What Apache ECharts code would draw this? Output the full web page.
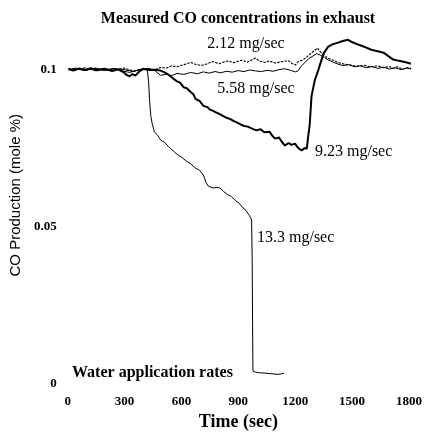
<!DOCTYPE html>
<html><head><meta charset="utf-8">
<script src="https://cdn.jsdelivr.net/npm/echarts@6/dist/echarts.min.js"></script>
<style>html,body{margin:0;padding:0;background:#fff}#c{width:429px;height:436px}</style>
</head><body><div id="c"></div>
<script>
// Time (sec), CO (mole %)
var xTicks = [0, 300, 600, 900, 1200, 1500, 1800];
var yTicks = [0, 0.05, 0.1];
var rate212 = [[5,0.1003],[41,0.0998],[92,0.1005],[143,0.0996],[194,0.1002],[245,0.0997],[296,0.1004],[347,0.0995],[398,0.0998],[429,0.1001],[460,0.0999],[490,0.1006],[521,0.1004],[547,0.1011],[577,0.1008],[613,0.1015],[649,0.1022],[674,0.1016],[705,0.1012],[741,0.1019],[766,0.1025],[797,0.1018],[817,0.1022],[848,0.1027],[874,0.1021],[889,0.1024],[920,0.1029],[950,0.1023],[976,0.1032],[991,0.1036],[1011,0.1026],[1042,0.1022],[1063,0.1027],[1093,0.1020],[1134,0.1025],[1144,0.1021],[1165,0.1027],[1185,0.1018],[1201,0.1014],[1216,0.1025],[1236,0.1029],[1257,0.1037],[1277,0.1048],[1303,0.1060],[1318,0.1068],[1328,0.1058],[1344,0.1050],[1359,0.1042],[1374,0.1035],[1400,0.1029],[1425,0.1022],[1461,0.1016],[1492,0.1014],[1522,0.1010],[1563,0.1013],[1594,0.1008],[1635,0.1011],[1666,0.1005],[1696,0.1009],[1717,0.1003],[1737,0.1008],[1768,0.1001],[1788,0.1006],[1819,0.1002]];
var rate558 = [[5,0.0998],[41,0.1004],[92,0.0997],[143,0.1003],[194,0.0996],[245,0.1002],[296,0.0999],[347,0.0993],[398,0.1001],[429,0.1003],[460,0.0996],[490,0.0981],[521,0.0985],[547,0.0980],[577,0.0987],[613,0.0984],[649,0.0990],[685,0.0986],[715,0.0992],[746,0.0988],[777,0.0993],[807,0.0989],[838,0.0994],[868,0.0991],[899,0.0996],[930,0.0993],[960,0.0998],[991,0.0995],[1022,0.0993],[1052,0.0997],[1083,0.0994],[1114,0.0999],[1144,0.1002],[1175,0.0997],[1201,0.0992],[1216,0.0996],[1231,0.1010],[1252,0.1022],[1272,0.1035],[1293,0.1042],[1313,0.1050],[1333,0.1045],[1354,0.1038],[1374,0.1030],[1395,0.1024],[1420,0.1018],[1451,0.1012],[1482,0.1015],[1512,0.1008],[1543,0.1011],[1574,0.1005],[1604,0.1009],[1635,0.1003],[1666,0.1007],[1696,0.1001],[1727,0.1005],[1758,0.0999],[1788,0.1004],[1819,0.1000]];
var rate923 = [[5,0.1001],[30,0.0996],[61,0.1003],[92,0.0998],[122,0.1004],[153,0.0997],[194,0.1002],[235,0.0995],[266,0.1000],[296,0.0990],[311,0.0982],[327,0.0978],[342,0.0985],[357,0.0980],[378,0.0993],[398,0.1002],[429,0.0998],[460,0.0999],[490,0.0996],[509,0.0991],[531,0.0983],[547,0.0976],[560,0.0969],[577,0.0962],[593,0.0958],[612,0.0943],[628,0.0940],[649,0.0928],[664,0.0920],[674,0.0906],[695,0.0900],[716,0.0884],[736,0.0880],[751,0.0872],[767,0.0868],[787,0.0862],[802,0.0858],[819,0.0852],[838,0.0846],[858,0.0842],[874,0.0836],[887,0.0833],[909,0.0826],[930,0.0820],[950,0.0818],[975,0.0811],[996,0.0806],[1017,0.0810],[1037,0.0800],[1064,0.0802],[1078,0.0790],[1094,0.0780],[1114,0.0784],[1129,0.0770],[1146,0.0758],[1165,0.0766],[1180,0.0760],[1199,0.0764],[1216,0.0750],[1234,0.0742],[1249,0.0750],[1261,0.0748],[1269,0.0790],[1276,0.0821],[1286,0.0915],[1303,0.0965],[1323,0.1000],[1349,0.1050],[1374,0.1072],[1400,0.1080],[1426,0.1085],[1451,0.1090],[1479,0.1094],[1502,0.1086],[1531,0.1079],[1563,0.1072],[1598,0.1063],[1630,0.1058],[1666,0.1053],[1691,0.1042],[1717,0.1031],[1747,0.1027],[1788,0.1022],[1819,0.1016]];
var rate133 = [[5,0.0999],[41,0.1002],[92,0.0996],[143,0.1004],[194,0.0998],[245,0.1003],[296,0.0994],[327,0.0990],[357,0.0996],[388,0.1001],[409,0.1000],[420,0.0998],[427,0.0960],[432,0.0900],[439,0.0850],[446,0.0827],[457,0.0802],[475,0.0790],[492,0.0774],[511,0.0768],[531,0.0755],[544,0.0748],[562,0.0738],[586,0.0726],[603,0.0720],[627,0.0708],[649,0.0700],[674,0.0686],[695,0.0680],[716,0.0664],[730,0.0640],[742,0.0629],[767,0.0623],[787,0.0625],[804,0.0623],[822,0.0612],[846,0.0601],[863,0.0596],[887,0.0582],[904,0.0575],[924,0.0560],[940,0.0552],[959,0.0535],[970,0.0522],[973,0.0400],[975,0.0200],[977,0.0041],[991,0.0038],[1011,0.0036],[1042,0.0035],[1073,0.0033],[1104,0.0031],[1124,0.0032],[1141,0.0035]];
var seriesNames = ['2.12 mg/sec', '5.58 mg/sec', '9.23 mg/sec', '13.3 mg/sec'];
var titleText = 'Measured CO concentrations in exhaust';
var xName = 'Time (sec)';
var yName = 'CO Production (mole %)';
var noteText = 'Water application rates';

var serif = '"Liberation Serif", "DejaVu Serif", serif';
var chart = echarts.init(document.getElementById('c'), null, {renderer: 'canvas'});
function line(name, data, width, type) {
  return {name: name, type: 'line', data: data, showSymbol: false, symbol: 'none', animation: false, clip: false,
    lineStyle: {color: '#000', width: width, type: type}, z: 2};
}
chart.setOption({
  backgroundColor: '#fff',
  animation: false,
  grid: {left: 62, right: 20, top: 6.4, bottom: 48, containLabel: false},
  xAxis: {type: 'value', min: 0, max: 1800, interval: 300,
    axisLine: {show: false}, axisTick: {show: false}, splitLine: {show: false},
    axisLabel: {margin: 11, color: '#000', fontFamily: serif, fontSize: 13, fontWeight: 'bold',
      formatter: function (v) { return String(v); }},
    name: xName, nameLocation: 'middle', nameGap: 23,
    nameTextStyle: {color: '#000', fontFamily: serif, fontSize: 18, fontWeight: 'bold'}},
  yAxis: {type: 'value', min: 0, max: 0.12, interval: 0.05,
    axisLine: {show: false}, axisTick: {show: false}, splitLine: {show: false},
    axisLabel: {margin: 11, color: '#000', fontFamily: serif, fontSize: 13, fontWeight: 'bold', showMaxLabel: false,
      formatter: function (v) { var r = Math.round(v * 100) / 100; return yTicks.indexOf(r) >= 0 ? String(r) : ''; }},
    name: yName, nameLocation: 'middle', nameGap: 39, nameRotate: 90,
    nameTextStyle: {color: '#000', fontFamily: '"Liberation Sans", Arial, sans-serif', fontSize: 15}},
  series: [
    line(seriesNames[0], rate212, 1.1, [2.5, 1.2]),
    line(seriesNames[1], rate558, 1, 'solid'),
    line(seriesNames[2], rate923, 2, 'solid'),
    line(seriesNames[3], rate133, 1, 'solid')
  ],
  graphic: [
    {type: 'text', x: 238, y: 19, style: {text: titleText, textAlign: 'center', textVerticalAlign: 'middle', font: 'bold 16px ' + serif, fill: '#000'}},
    {type: 'text', x: 246, y: 44, style: {text: seriesNames[0], textAlign: 'center', textVerticalAlign: 'middle', font: '16px ' + serif, fill: '#000'}},
    {type: 'text', x: 256, y: 89, style: {text: seriesNames[1], textAlign: 'center', textVerticalAlign: 'middle', font: '16px ' + serif, fill: '#000'}},
    {type: 'text', x: 315, y: 152, style: {text: seriesNames[2], textAlign: 'left', textVerticalAlign: 'middle', font: '16px ' + serif, fill: '#000'}},
    {type: 'text', x: 257, y: 238, style: {text: seriesNames[3], textAlign: 'left', textVerticalAlign: 'middle', font: '16px ' + serif, fill: '#000'}},
    {type: 'text', x: 72, y: 373, style: {text: noteText, textAlign: 'left', textVerticalAlign: 'middle', font: 'bold 16px ' + serif, fill: '#000'}}
  ]
});
</script></body></html>
